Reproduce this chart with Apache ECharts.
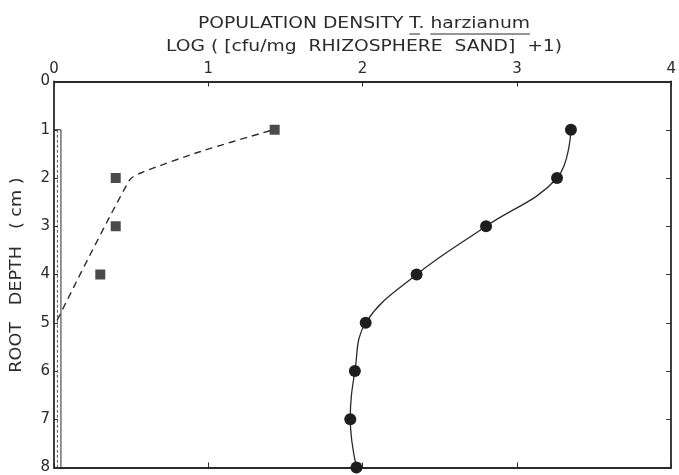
<!DOCTYPE html>
<html>
<head>
<meta charset="utf-8">
<script src="https://cdn.jsdelivr.net/npm/echarts@6/dist/echarts.min.js"></script>
<style>
  html, body { margin: 0; padding: 0; background: #ffffff; }
  #chart { width: 679px; height: 475px; }
</style>
</head>
<body>
<div id="chart"></div>
<script>
// Axis ticks
const depthTicks = [0, 1, 2, 3, 4, 5, 6, 7, 8];
const logTicks = [0, 1, 2, 3, 4];

// Rhizosphere population (filled circles, solid curve)
const circleDepth = [1, 2, 3, 4, 5, 6, 7, 8];
const circleLog = [3.35, 3.26, 2.80, 2.35, 2.02, 1.95, 1.92, 1.96];

// Second population (filled squares)
const squareDepth = [1, 2, 3, 4];
const squareLog = [1.43, 0.40, 0.40, 0.30];

// Dashed trend for the squares
const dashDepth = [1.02, 1.45, 1.88, 2.04, 4.95];
const dashLog = [1.40, 0.95, 0.575, 0.49, 0.02];

// Narrow band along the depth axis
const bandDepth = [1, 8];
const bandLog = [0, 0.045, 0.022];

const INK = '#2b2b2b';
const FONT = 'DejaVu Sans';

const pairs = (xs, ys) => xs.map((x, i) => [x, ys[i]]);

const chart = echarts.init(document.getElementById('chart'), null, { renderer: 'canvas' });

// Title lines (stretched lettering) and the underline below the species name
const titleA = 'POPULATION DENSITY ';
const titleB = 'T.';
const titleC = ' ';
const titleD = 'harzianum';
const titleLine2 = 'LOG ( [cfu/mg  RHIZOSPHERE  SAND]  +1)';
const yName = 'ROOT   DEPTH   ( cm )';
const titleSize = 16;
const stretch = 1.17;
const titleFont = titleSize + 'px "' + FONT + '"';
const ctx = document.createElement('canvas').getContext('2d');
ctx.font = titleFont;
const wA = ctx.measureText(titleA).width * stretch;
const wB = ctx.measureText(titleB).width * stretch;
const wC = ctx.measureText(titleC).width * stretch;
const wD = ctx.measureText(titleD).width * stretch;
const titleCx = 364;
const x0 = titleCx - (wA + wB + wC + wD) / 2;
const ulY = 34;

const option = {
  backgroundColor: '#ffffff',
  animation: false,
  grid: { left: 54, right: 3, top: 81.5, bottom: 4, containLabel: false },
  graphic: [
    {
      type: 'text', x: titleCx, y: 24, scaleX: stretch,
      style: { text: titleA + titleB + titleC + titleD, font: titleFont,
               fill: INK, align: 'center', verticalAlign: 'middle' }
    },
    {
      type: 'text', x: titleCx, y: 47, scaleX: stretch,
      style: { text: titleLine2, font: titleFont,
               fill: INK, align: 'center', verticalAlign: 'middle' }
    },
    {
      type: 'line',
      shape: { x1: x0 + wA, y1: ulY, x2: x0 + wA + wB * 0.7, y2: ulY },
      style: { stroke: INK, lineWidth: 1 }
    },
    {
      type: 'line',
      shape: { x1: x0 + wA + wB + wC, y1: ulY, x2: x0 + wA + wB + wC + wD, y2: ulY },
      style: { stroke: INK, lineWidth: 1 }
    },
    {
      type: 'text', x: 17, y: 275, rotation: Math.PI / 2, scaleX: 1.1,
      style: { text: yName, font: titleFont, fill: INK, align: 'center', verticalAlign: 'middle' }
    }
  ],
  xAxis: [
    {
      type: 'value', position: 'top', min: logTicks[0], max: logTicks[logTicks.length - 1], interval: 1,
      axisLine: { show: true, onZero: false, lineStyle: { color: INK, width: 1.8 } },
      axisTick: { show: true, inside: true, length: 5, lineStyle: { color: INK, width: 1 } },
      axisLabel: { show: true, margin: 5, color: INK, fontFamily: FONT, fontSize: 15,
                   formatter: v => (logTicks.indexOf(v) >= 0 ? String(v) : '') },
      splitLine: { show: false }
    },
    {
      type: 'value', position: 'bottom', min: logTicks[0], max: logTicks[logTicks.length - 1], interval: 1,
      axisLine: { show: true, onZero: false, lineStyle: { color: INK, width: 1.8 } },
      axisTick: { show: true, inside: true, length: 5, lineStyle: { color: INK, width: 1 } },
      axisLabel: { show: false },
      splitLine: { show: false }
    }
  ],
  yAxis: [
    {
      type: 'value', inverse: true, position: 'left', min: depthTicks[0], max: depthTicks[depthTicks.length - 1], interval: 1,
      axisLine: { show: true, onZero: false, lineStyle: { color: INK, width: 1.8 } },
      axisTick: { show: true, inside: true, length: 4, lineStyle: { color: INK, width: 1 } },
      axisLabel: { show: true, margin: 4, color: INK, fontFamily: FONT, fontSize: 15 },
      splitLine: { show: false }
    },
    {
      type: 'value', inverse: true, position: 'right', min: depthTicks[0], max: depthTicks[depthTicks.length - 1], interval: 1,
      axisLine: { show: true, onZero: false, lineStyle: { color: INK, width: 1.8 } },
      axisTick: { show: true, inside: true, length: 5, lineStyle: { color: INK, width: 1 } },
      axisLabel: { show: false },
      splitLine: { show: false }
    }
  ],
  series: [
    {
      name: 'band', type: 'line', xAxisIndex: 0, yAxisIndex: 0,
      data: [[bandLog[0], bandDepth[0]], [bandLog[1], bandDepth[0]], [bandLog[1], bandDepth[1]]],
      symbol: 'none', lineStyle: { color: INK, width: 1 }, silent: true, z: 1
    },
    {
      name: 'band-mid', type: 'line', xAxisIndex: 0, yAxisIndex: 0,
      data: [[bandLog[2], bandDepth[0]], [bandLog[2], bandDepth[1]]],
      symbol: 'none', lineStyle: { color: '#555', width: 1, type: [3, 2] }, silent: true, z: 1
    },
    {
      name: 'dashed trend', type: 'line', xAxisIndex: 0, yAxisIndex: 0,
      data: pairs(dashLog, dashDepth), smooth: 0.25,
      symbol: 'none', lineStyle: { color: INK, width: 1.4, type: [7, 5] }, z: 2
    },
    {
      name: 'squares', type: 'scatter', xAxisIndex: 0, yAxisIndex: 0,
      data: pairs(squareLog, squareDepth),
      symbol: 'rect', symbolSize: 10, itemStyle: { color: '#1e1e1e' }, z: 3
    },
    {
      name: 'circles', type: 'line', xAxisIndex: 0, yAxisIndex: 0,
      data: pairs(circleLog, circleDepth), smooth: 0.4,
      symbol: 'circle', symbolSize: 12, showSymbol: true,
      itemStyle: { color: '#1e1e1e', borderWidth: 0 },
      lineStyle: { color: INK, width: 1.3 }, z: 3
    }
  ]
};

chart.setOption(option);
</script>
</body>
</html>
